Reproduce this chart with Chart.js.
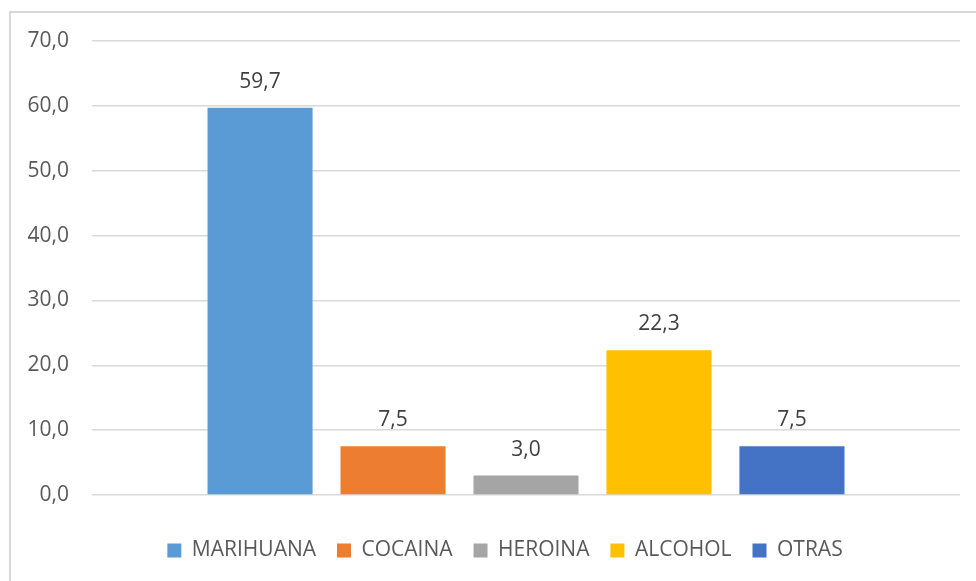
<!DOCTYPE html>
<html>
<head>
<meta charset="utf-8">
<script src="https://cdn.jsdelivr.net/npm/chart.js@4/dist/chart.umd.min.js"></script>
<style>
  html, body { margin: 0; padding: 0; background: #fff; overflow: hidden; }
  #frame {
    position: absolute; left: 9px; top: 11px;
    width: 988px; height: 600px;
    border: 2px solid #d9d9d9;
  }
</style>
</head>
<body>
<div id="frame"><canvas id="chart" width="988" height="600"></canvas></div>
<script>
const categories = ['MARIHUANA', 'COCAINA', 'HEROINA', 'ALCOHOL', 'OTRAS'];
const values     = [59.7, 7.5, 3.0, 22.3, 7.5];
const colors     = ['#5B9BD5', '#ED7D31', '#A5A5A5', '#FFC000', '#4472C4'];
const yTicks     = [0, 10, 20, 30, 40, 50, 60, 70];

const fmt = v => v.toFixed(1).replace('.', ',');
const FONT = "'Open Sans', sans-serif";

// labels above each bar
const valueLabels = {
  id: 'valueLabels',
  afterDatasetsDraw(chart) {
    const ctx = chart.ctx;
    ctx.save();
    ctx.font = `21px ${FONT}`;
    ctx.fillStyle = '#404040';
    ctx.textAlign = 'center';
    ctx.textBaseline = 'middle';
    chart.data.datasets.forEach((ds, i) => {
      const bar = chart.getDatasetMeta(i).data[0];
      ctx.fillText(fmt(ds.data[0]), bar.x, bar.y - 26);
    });
    ctx.restore();
  }
};

new Chart(document.getElementById('chart'), {
  type: 'bar',
  data: {
    labels: [''],
    datasets: categories.map((c, i) => ({
      label: c,
      data: [values[i]],
      backgroundColor: colors[i],
      barPercentage: 0.79,
      categoryPercentage: 0.766
    }))
  },
  options: {
    responsive: false,
    animation: false,
    layout: { padding: { top: 28, right: 0, bottom: 42, left: 0 } },
    plugins: {
      legend: {
        position: 'bottom',
        labels: {
          boxWidth: 14, boxHeight: 14, padding: 21,
          color: '#595959',
          font: { family: FONT, size: 21 }
        }
      },
      tooltip: { enabled: false }
    },
    scales: {
      x: {
        grid: { display: false },
        border: { display: false },
        ticks: { display: false },
        afterFit: s => { s.height = 24; }
      },
      y: {
        min: 0, max: 70,
        afterBuildTicks: s => { s.ticks = yTicks.map(v => ({ value: v })); },
        afterFit: s => { s.width = 81; s.paddingTop = 0; s.paddingBottom = 0; },
        grid: { color: '#d9d9d9', lineWidth: 1.5, drawTicks: false },
        border: { display: false },
        ticks: {
          padding: 23,
          color: '#595959',
          font: { family: FONT, size: 21 },
          callback: v => fmt(v)
        }
      },
      // empty spacer on the right so the plot ends short of the frame
      spacer: {
        display: true,
        position: 'right',
        grid: { display: false },
        border: { display: false },
        ticks: { display: false },
        afterFit: s => { s.width = 39; s.paddingTop = 0; s.paddingBottom = 0; }
      }
    }
  },
  plugins: [valueLabels]
});
</script>
</body>
</html>
